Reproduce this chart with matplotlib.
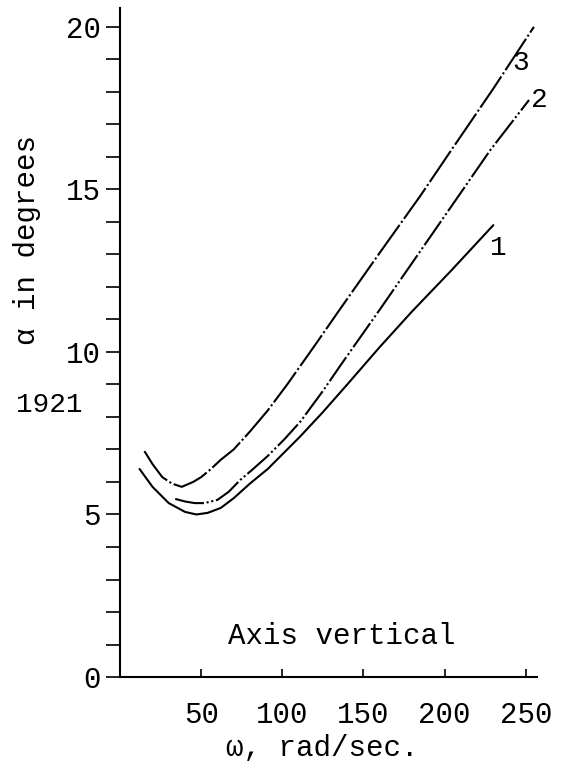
import numpy as np
import matplotlib
matplotlib.use("Agg")
import matplotlib.pyplot as plt

plt.rcParams['font.family'] = ['Liberation Mono', 'DejaVu Sans Mono']

# curve 1 (lowest)
w1 = [12, 20, 30, 40, 47, 54, 62, 70, 80, 91, 101, 111, 125, 140, 160, 180, 204, 230]
a1 = [6.4, 5.85, 5.35, 5.08, 5.0, 5.05, 5.2, 5.5, 5.95, 6.4, 6.9, 7.4, 8.15, 9.0, 10.15, 11.25, 12.5, 13.9]

# curve 2 (middle)
w2 = [34, 40, 46, 52, 60, 67, 74, 82, 91, 101, 111, 125, 136, 160, 185, 210, 228, 252]
a2 = [5.48, 5.4, 5.35, 5.35, 5.45, 5.7, 6.06, 6.4, 6.8, 7.3, 7.85, 8.8, 9.6, 11.3, 13.1, 14.9, 16.2, 17.75]

# curve 3 (top)
w3 = [15, 20, 26, 32, 38, 45, 50, 56, 62, 70, 80, 91, 103, 120, 136, 160, 185, 204, 230, 255]
a3 = [6.95, 6.55, 6.15, 5.95, 5.85, 6.0, 6.15, 6.4, 6.68, 7.0, 7.55, 8.2, 9.0, 10.2, 11.35, 13.05, 14.8, 16.2, 18.1, 20.0]

curve_labels = ["1", "2", "3"]
label_pos = [(233, 13.2), (258.5, 17.75), (247, 18.9)]

xticks = [50, 100, 150, 200, 250]
yticks = [0, 5, 10, 15, 20]

fig = plt.figure(figsize=(5.69, 7.69), dpi=100)
ax = fig.add_axes([0.211, 0.1196, 0.733, 0.870])

ax.plot(w1, a1, color="black", lw=1.5, solid_capstyle="round")
ax.plot(w2, a2, color="black", lw=1.5, linestyle=(0, (14, 1.3, 1, 1.3, 1, 1.3)))
ax.plot(w3, a3, color="black", lw=1.5, linestyle=(0, (18, 1.3, 1, 1.3)))

for lab, (x, y) in zip(curve_labels, label_pos):
    ax.text(x, y, lab, fontsize=20, ha="center", va="center", clip_on=False)

ax.text(136.4, 1.26, "Axis vertical", fontsize=21, ha="center", va="center")

ax.set_xlim(0, 257)
ax.set_ylim(0, 20.58)
ax.set_xticks(xticks)
ax.set_yticks(yticks)
ax.set_yticks(np.arange(0, 21, 1), minor=True)

for s in ["top", "right"]:
    ax.spines[s].set_visible(False)
ax.spines["left"].set_linewidth(1.5)
ax.spines["bottom"].set_linewidth(1.5)

ax.tick_params(axis="x", direction="in", length=6, width=1.2, pad=17, labelsize=21)
ax.tick_params(axis="y", which="both", direction="out", length=10, width=1.2, pad=4, labelsize=21)

fig.text(27 / 569, 1 - 240 / 769, "α in degrees", rotation=90, fontsize=21,
         ha="center", va="center")
fig.text(49 / 569, 1 - 405 / 769, "1921", fontsize=20, ha="center", va="center")
fig.text(322 / 569, 1 - 748 / 769, "ω, rad/sec.", fontsize=21, ha="center", va="center")

fig.savefig("out.png", dpi=100)
